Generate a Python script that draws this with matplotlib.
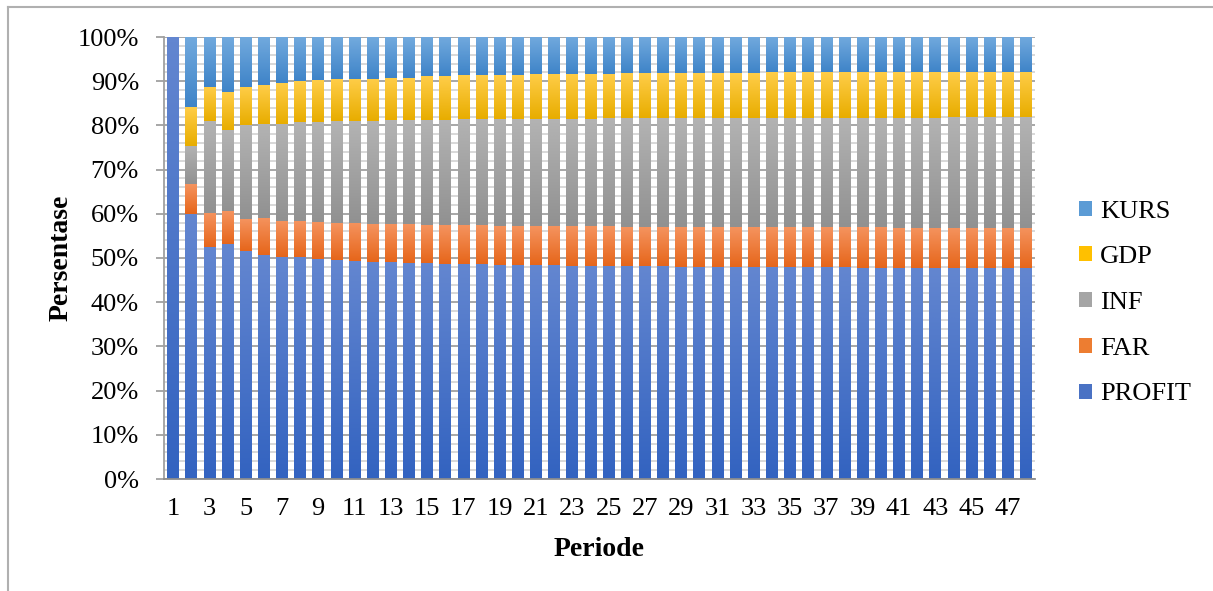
import numpy as np
import matplotlib
matplotlib.use("Agg")
import matplotlib.pyplot as plt
from matplotlib.colors import LinearSegmentedColormap
from matplotlib.patches import Patch
from matplotlib.lines import Line2D
from matplotlib.ticker import MultipleLocator, PercentFormatter

periods = list(range(1, 49))

# shares per period (percent)
profit = [100.0, 60.0, 52.5, 53.2, 51.6, 50.7, 50.2, 50.2, 49.8, 49.6, 49.3, 49.2,
          49.2, 48.9, 48.9, 48.7, 48.7, 48.7, 48.4, 48.4, 48.4, 48.4, 48.3, 48.3,
          48.3, 48.3, 48.3, 48.3, 48.0, 48.0, 48.0, 48.0, 48.0, 48.0, 48.0, 48.0,
          48.0, 48.0, 47.7, 47.7, 47.7, 47.7, 47.7, 47.7, 47.7, 47.7, 47.7, 47.7]
far = [0.0, 6.7, 7.7, 7.4, 7.2, 8.4, 8.1, 8.1, 8.4, 8.3, 8.6, 8.5,
       8.5, 8.8, 8.5, 8.7, 8.7, 8.7, 8.8, 8.8, 8.8, 8.8, 8.9, 8.9,
       8.9, 8.7, 8.7, 8.7, 9.0, 9.0, 9.0, 9.0, 9.0, 9.0, 9.0, 9.0,
       9.0, 9.0, 9.3, 9.3, 9.1, 9.1, 9.1, 9.1, 9.1, 9.1, 9.1, 9.1]
inf = [0.0, 8.7, 20.7, 18.4, 21.2, 21.2, 22.0, 22.5, 22.6, 23.0, 23.0, 23.2,
       23.5, 23.5, 23.8, 23.8, 24.0, 24.0, 24.2, 24.2, 24.2, 24.2, 24.2, 24.2,
       24.5, 24.7, 24.7, 24.7, 24.7, 24.7, 24.7, 24.7, 24.7, 24.7, 24.7, 24.7,
       24.7, 24.7, 24.7, 24.7, 24.9, 24.9, 24.9, 25.0, 25.0, 25.0, 25.0, 25.0]
gdp = [0.0, 8.7, 7.7, 8.5, 8.8, 8.8, 9.2, 9.2, 9.4, 9.5, 9.7, 9.7,
       9.6, 9.6, 9.9, 9.9, 9.9, 9.9, 9.9, 9.9, 10.2, 10.2, 10.2, 10.2,
       9.9, 10.1, 10.1, 10.1, 10.1, 10.1, 10.1, 10.1, 10.1, 10.3, 10.3, 10.3,
       10.3, 10.3, 10.3, 10.3, 10.3, 10.3, 10.3, 10.2, 10.2, 10.2, 10.2, 10.2]
kurs = [0.0, 15.9, 11.4, 12.5, 11.2, 10.9, 10.5, 10.0, 9.8, 9.6, 9.4, 9.4,
        9.2, 9.2, 8.9, 8.9, 8.7, 8.7, 8.7, 8.7, 8.4, 8.4, 8.4, 8.4,
        8.4, 8.2, 8.2, 8.2, 8.2, 8.2, 8.2, 8.2, 8.2, 8.0, 8.0, 8.0,
        8.0, 8.0, 8.0, 8.0, 8.0, 8.0, 8.0, 8.0, 8.0, 8.0, 8.0, 8.0]

names = ["PROFIT", "FAR", "INF", "GDP", "KURS"]
series = [profit, far, inf, gdp, kurs]
# (top colour, bottom colour) for the gradient fill, plus a legend colour
grads = [("#6386d0", "#3363c0"), ("#f5935e", "#e6661b"), ("#b3b3b3", "#919191"),
         ("#ffcd48", "#e8ad00"), ("#72aade", "#3f84c8")]
solid = ["#4a72c4", "#ed7d31", "#a5a5a5", "#ffc000", "#5b9bd5"]

plt.rcParams["font.family"] = ["Liberation Serif", "DejaVu Serif"]

fig = plt.figure(figsize=(12.13, 5.91), dpi=100)
ax = fig.add_axes([164 / 1213, 1 - 479 / 591, 871 / 1213, 442 / 591])

width = 0.64
bottom = np.zeros(len(periods))
grad = np.linspace(0, 1, 64).reshape(-1, 1)
for vals, (top_c, bot_c) in zip(series, grads):
    vals = np.array(vals)
    cmap = LinearSegmentedColormap.from_list("g", [top_c, bot_c])
    bars = ax.bar(periods, vals, width=width, bottom=bottom, color="none", linewidth=0)
    for rect in bars:
        h = rect.get_height()
        if h <= 0:
            continue
        x0 = rect.get_x()
        y0 = rect.get_y()
        ax.imshow(grad, extent=[x0, x0 + rect.get_width(), y0, y0 + h],
                  cmap=cmap, aspect="auto", interpolation="bilinear",
                  origin="upper", zorder=2)
    bottom += vals

ax.set_xlim(0.5, 48.5)
ax.set_ylim(0, 100)
ax.set_aspect("auto")

ax.yaxis.set_major_locator(MultipleLocator(10))
ax.yaxis.set_minor_locator(MultipleLocator(2))
ax.yaxis.set_major_formatter(PercentFormatter(decimals=0))
ax.set_xticks(periods[::2])
ax.set_axisbelow(True)
ax.grid(axis="y", which="major", color="#a0a0a0", linewidth=1.3, zorder=0.5)
ax.grid(axis="y", which="minor", color="#d6d6d6", linewidth=1.3, zorder=0.5)

for side in ["top", "right"]:
    ax.spines[side].set_visible(False)
ax.spines["left"].set_color("#a0a0a0")
ax.spines["left"].set_linewidth(1.3)
ax.spines["bottom"].set_color("#8c8c8c")
ax.spines["bottom"].set_linewidth(1.3)

ax.tick_params(axis="y", which="major", length=6, width=1.3, color="#a0a0a0",
               labelsize=19, pad=12)
ax.tick_params(axis="y", which="minor", length=0)
ax.tick_params(axis="x", length=0, labelsize=19, pad=14)

ax.set_ylabel("Persentase", fontsize=20, fontweight="bold", labelpad=3)
ax.set_xlabel("Periode", fontsize=20, fontweight="bold", labelpad=12)

handles = [Patch(facecolor=c, edgecolor="none") for c in solid]
leg = fig.legend(handles[::-1], names[::-1], loc="center left",
                 bbox_to_anchor=(1079 / 1213, 1 - 303 / 591), frameon=False,
                 fontsize=19, handlelength=0.5, handleheight=0.5,
                 handletextpad=0.3, labelspacing=0.9,
                 borderpad=0, borderaxespad=0)

# outer chart frame (left and top edges visible)
fig.add_artist(Line2D([8 / 1213, 8 / 1213], [0, 1 - 7 / 591], transform=fig.transFigure,
                      color="#b0b0b0", linewidth=1.5))
fig.add_artist(Line2D([8 / 1213, 1], [1 - 7 / 591, 1 - 7 / 591], transform=fig.transFigure,
                      color="#b0b0b0", linewidth=1.5))

fig.savefig("out.png", dpi=100)
